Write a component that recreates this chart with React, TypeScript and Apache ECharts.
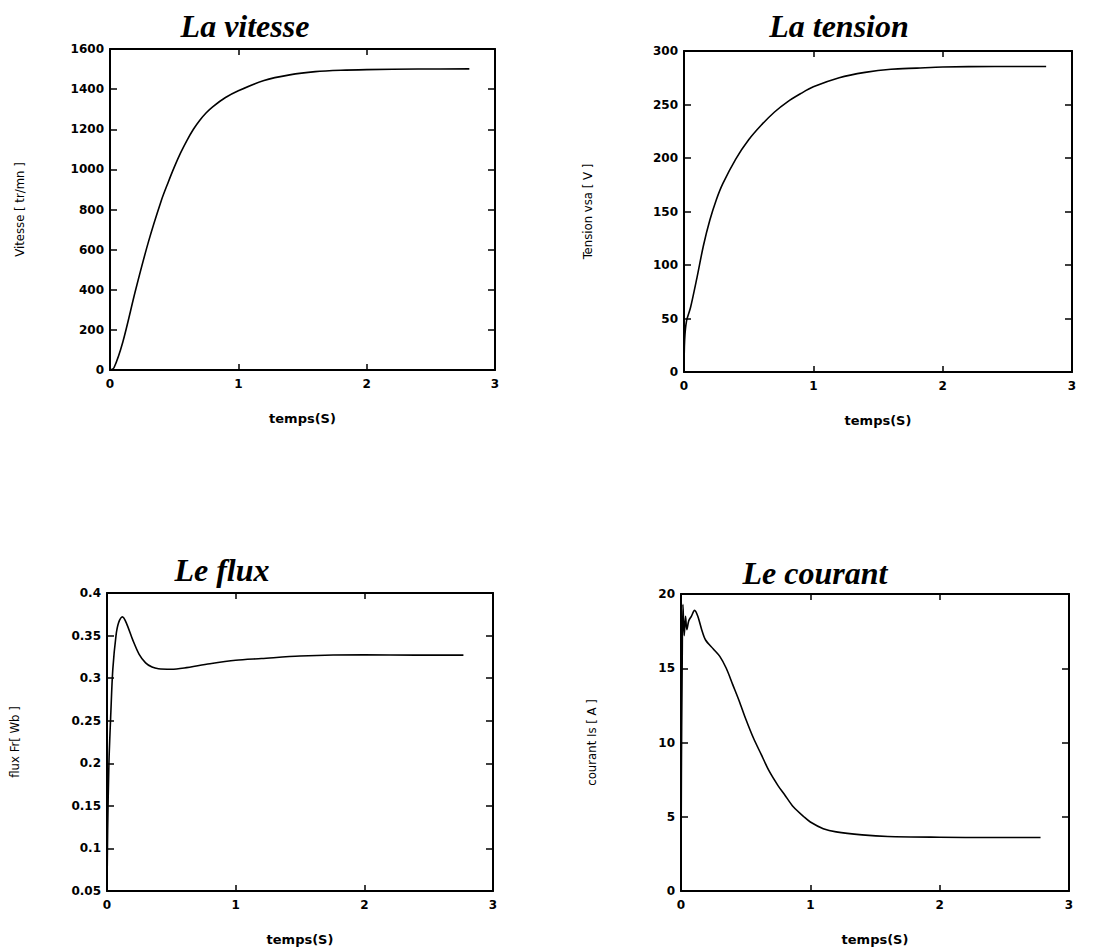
import React, { useEffect, useRef } from "react";
import * as echarts from "echarts";

// ---- Data (time in seconds) ----
const vitesseT = [0, 0.03, 0.1, 0.2, 0.3, 0.4, 0.45, 0.5, 0.55, 0.6, 0.65, 0.7, 0.75, 0.8, 0.9, 1.0, 1.2, 1.4, 1.6, 1.8, 2.0, 2.4, 2.8];
const vitesseV = [0, 10, 140, 400, 640, 845, 930, 1010, 1082, 1145, 1200, 1245, 1282, 1312, 1358, 1392, 1443, 1471, 1487, 1494, 1497, 1500, 1501];

const tensionT = [0, 0.005, 0.02, 0.05, 0.1, 0.15, 0.2, 0.25, 0.3, 0.4, 0.5, 0.6, 0.7, 0.8, 0.9, 1.0, 1.2, 1.4, 1.6, 1.8, 2.0, 2.4, 2.8];
const tensionV = [0, 30, 48, 60, 88, 118, 142, 161, 176, 199, 217, 231, 243, 252.5, 260, 266.5, 275, 280, 283, 284, 285, 285.5, 285.5];

const fluxT = [0, 0.005, 0.015, 0.03, 0.045, 0.07, 0.09, 0.12, 0.15, 0.2, 0.25, 0.3, 0.35, 0.4, 0.5, 0.6, 0.8, 1.0, 1.2, 1.5, 2.0, 2.4, 2.77];
const fluxV = [0.05, 0.12, 0.2, 0.26, 0.31, 0.35, 0.365, 0.372, 0.365, 0.345, 0.328, 0.318, 0.313, 0.311, 0.3105, 0.312, 0.317, 0.321, 0.323, 0.326, 0.3275, 0.327, 0.327];

const courantT = [0, 0.003, 0.008, 0.015, 0.025, 0.035, 0.045, 0.06, 0.08, 0.105, 0.13, 0.16, 0.19, 0.25, 0.3, 0.35, 0.4, 0.45, 0.5, 0.56, 0.62, 0.68, 0.75, 0.8, 0.87, 0.95, 1.0, 1.1, 1.2, 1.4, 1.6, 2.0, 2.4, 2.78];
const courantV = [0, 8, 14, 19.3, 17.2, 18.5, 17.6, 18.2, 18.5, 18.9, 18.5, 17.6, 16.9, 16.3, 15.8, 15.0, 13.9, 12.8, 11.6, 10.3, 9.2, 8.1, 7.1, 6.5, 5.65, 5.0, 4.65, 4.2, 3.98, 3.78, 3.67, 3.62, 3.6, 3.6];

const titles = ["La vitesse", "La tension", "Le flux", "Le courant"];
const yNames = ["Vitesse [ tr/mn ]", "Tension vsa [ V ]", "flux Fr[ Wb ]", "courant Is [ A ]"];
const xName = "temps(S)";
const yRanges = [
  { min: 0, max: 1600, interval: 200 },
  { min: 0, max: 300, interval: 50 },
  { min: 0.05, max: 0.4, interval: 0.05 },
  { min: 0, max: 20, interval: 5 },
];

const pairs = (t: number[], v: number[]) => t.map((x, i) => [x, v[i]]);
const seriesData = [
  pairs(vitesseT, vitesseV),
  pairs(tensionT, tensionV),
  pairs(fluxT, fluxV),
  pairs(courantT, courantV),
];

// ---- Layout ----
const grids = [
  { left: 110, top: 49, width: 385, height: 321 },
  { left: 684, top: 51, width: 388, height: 321 },
  { left: 107, top: 593, width: 386, height: 301 },
  { left: 681, top: 594, width: 388, height: 301 },
];
const titlePos = [
  { x: 245, y: 10 },
  { x: 839, y: 10 },
  { x: 222, y: 554 },
  { x: 815, y: 557 },
];
const yNameGap = [84, 90, 86, 83];

const tickFont = {
  color: "#000",
  fontFamily: "'DejaVu Sans', sans-serif",
  fontWeight: "bold" as const,
  fontSize: 12,
};
const fmt = (v: number) => String(parseFloat(Number(v).toFixed(4)));

export default function App() {
  const ref = useRef<HTMLDivElement>(null);
  useEffect(() => {
    const chart = echarts.init(ref.current!, null, { renderer: "svg" });
    const xAxis: any[] = [];
    const yAxis: any[] = [];
    const series: any[] = [];
    grids.forEach((_, i) => {
      const lineStyle = { color: "#000", width: 2 };
      xAxis.push({
        type: "value",
        gridIndex: i,
        position: "bottom",
        min: 0,
        max: 3,
        interval: 1,
        name: xName,
        nameLocation: "middle",
        nameGap: 42,
        nameTextStyle: { ...tickFont, fontSize: 13 },
        axisLine: { show: true, onZero: false, lineStyle },
        axisTick: { show: true, inside: true, length: 6, lineStyle: { color: "#000", width: 1.5 } },
        axisLabel: { ...tickFont, margin: 8, formatter: fmt },
        splitLine: { show: false },
      });
      xAxis.push({
        type: "value",
        gridIndex: i,
        position: "top",
        min: 0,
        max: 3,
        interval: 1,
        axisLine: { show: true, onZero: false, lineStyle },
        axisTick: { show: true, inside: true, length: 6, lineStyle: { color: "#000", width: 1.5 } },
        axisLabel: { show: false },
        splitLine: { show: false },
      });
      yAxis.push({
        type: "value",
        gridIndex: i,
        position: "left",
        ...yRanges[i],
        name: yNames[i],
        nameLocation: "middle",
        nameGap: yNameGap[i],
        nameRotate: 90,
        nameTextStyle: {
          color: "#000",
          fontFamily: "'Liberation Sans Narrow', 'DejaVu Sans Condensed', 'Liberation Sans', sans-serif",
          fontSize: 13,
        },
        axisLine: { show: true, onZero: false, lineStyle },
        axisTick: { show: true, inside: true, length: 7, lineStyle: { color: "#000", width: 1.5 } },
        axisLabel: { ...tickFont, margin: 6, formatter: fmt },
        splitLine: { show: false },
      });
      yAxis.push({
        type: "value",
        gridIndex: i,
        position: "right",
        ...yRanges[i],
        axisLine: { show: true, onZero: false, lineStyle },
        axisTick: { show: true, inside: true, length: 7, lineStyle: { color: "#000", width: 1.5 } },
        axisLabel: { show: false },
        splitLine: { show: false },
      });
      series.push({
        type: "line",
        xAxisIndex: 2 * i,
        yAxisIndex: 2 * i,
        data: seriesData[i],
        showSymbol: false,
        symbol: "none",
        smooth: 0.3,
        lineStyle: { color: "#000", width: 1.6 },
      });
    });

    chart.setOption({
      animation: false,
      backgroundColor: "#fff",
      title: titles.map((t, i) => ({
        text: t,
        left: titlePos[i].x,
        top: titlePos[i].y,
        textAlign: "center",
        padding: 0,
        textStyle: {
          color: "#000",
          fontFamily: "'Liberation Serif', 'DejaVu Serif', serif",
          fontStyle: "italic",
          fontWeight: "bold",
          fontSize: 32,
        },
      })),
      grid: grids.map((g) => ({ ...g, containLabel: false })),
      xAxis,
      yAxis,
      series,
    });
    return () => chart.dispose();
  }, []);
  return (
    <div
      ref={ref}
      style={{ position: "absolute", left: 0, top: 0, width: 1117, height: 947, background: "#fff" }}
    />
  );
}
